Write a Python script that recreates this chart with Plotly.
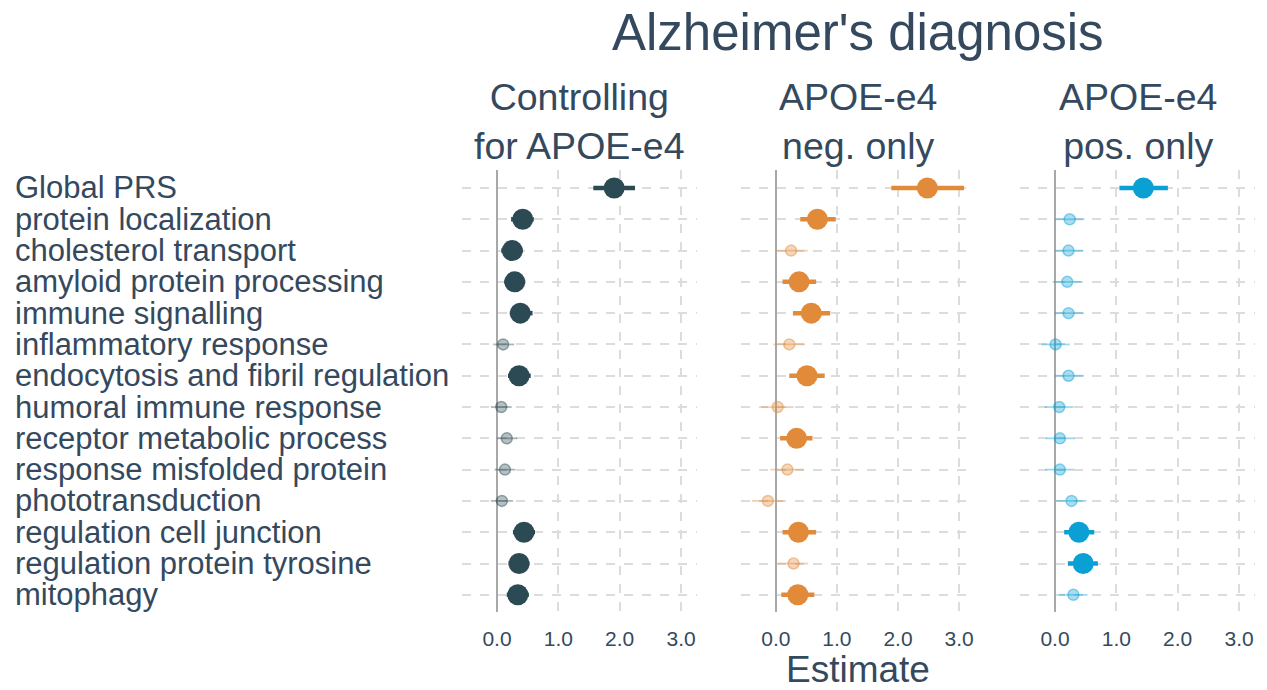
import plotly.graph_objects as go

# Pathway-specific polygenic risk scores and their association with diagnosis
categories = [
    "Global PRS", "protein localization", "cholesterol transport",
    "amyloid protein processing", "immune signalling", "inflammatory response",
    "endocytosis and fibril regulation", "humoral immune response",
    "receptor metabolic process", "response misfolded protein",
    "phototransduction", "regulation cell junction",
    "regulation protein tyrosine", "mitophagy",
]

panel_titles = ["Controlling<br>for APOE-e4", "APOE-e4<br>neg. only", "APOE-e4<br>pos. only"]

# Controlling for APOE-e4
ctrl_est = [1.91, 0.42, 0.25, 0.29, 0.38, 0.10, 0.36, 0.07, 0.16, 0.13, 0.08, 0.44, 0.36, 0.34]
ctrl_lo = [1.57, 0.23, 0.07, 0.12, 0.21, -0.06, 0.18, -0.10, 0.00, -0.04, -0.10, 0.26, 0.19, 0.16]
ctrl_hi = [2.25, 0.60, 0.42, 0.46, 0.58, 0.28, 0.55, 0.24, 0.33, 0.30, 0.26, 0.62, 0.53, 0.52]
ctrl_sig = [1, 1, 1, 1, 1, 0, 1, 0, 0, 0, 0, 1, 1, 1]

# APOE-e4 negative carriers only
neg_est = [2.48, 0.68, 0.25, 0.38, 0.58, 0.22, 0.51, 0.03, 0.34, 0.19, -0.13, 0.37, 0.29, 0.36]
neg_lo = [1.89, 0.40, 0.00, 0.11, 0.28, -0.04, 0.22, -0.24, 0.07, -0.09, -0.39, 0.11, 0.03, 0.09]
neg_hi = [3.08, 0.98, 0.52, 0.66, 0.89, 0.48, 0.80, 0.29, 0.60, 0.46, 0.12, 0.66, 0.53, 0.63]
neg_sig = [1, 1, 0, 1, 1, 0, 1, 0, 1, 0, 0, 1, 0, 1]

# APOE-e4 positive carriers only
pos_est = [1.44, 0.24, 0.22, 0.20, 0.22, 0.01, 0.22, 0.07, 0.08, 0.08, 0.27, 0.39, 0.46, 0.30]
pos_lo = [1.05, 0.00, 0.00, -0.04, -0.01, -0.22, -0.01, -0.17, -0.15, -0.16, 0.02, 0.15, 0.21, 0.06]
pos_hi = [1.84, 0.48, 0.46, 0.43, 0.47, 0.24, 0.47, 0.30, 0.32, 0.31, 0.51, 0.64, 0.70, 0.53]
pos_sig = [1, 0, 0, 0, 0, 0, 0, 0, 0, 0, 0, 1, 1, 0]

x_ticks = [0, 1, 2, 3]
x_tick_labels = ["0.0", "1.0", "2.0", "3.0"]

panels = [
    (ctrl_est, ctrl_lo, ctrl_hi, ctrl_sig, (44, 74, 84)),
    (neg_est, neg_lo, neg_hi, neg_sig, (224, 138, 58)),
    (pos_est, pos_lo, pos_hi, pos_sig, (10, 160, 212)),
]

W, H = 1267, 690
TEXT = "#34495e"
FONT = "Liberation Sans, Arial"
x_domains = [(462, 697), (741, 975), (1020, 1255)]
y_top, y_bot = 170, 612
n = len(categories)
y_range = [n - 1 + 0.55, -0.575]

fig = go.Figure()


def rgba(c, a):
    return f"rgba({c[0]},{c[1]},{c[2]},{a})"


for p, (est, lo, hi, sig, col) in enumerate(panels):
    ax = "" if p == 0 else str(p + 1)
    for is_sig in (0, 1):
        idx = [i for i in range(n) if sig[i] == is_sig]
        xs = [est[i] for i in idx]
        ys = [i for i in idx]
        plus = [hi[i] - est[i] for i in idx]
        minus = [est[i] - lo[i] for i in idx]
        if is_sig:
            marker = dict(size=21, color=rgba(col, 1), line=dict(width=0))
            err = dict(type="data", symmetric=False, array=plus, arrayminus=minus,
                       thickness=4.5, width=0, color=rgba(col, 1))
        else:
            marker = dict(size=11, color=rgba(col, 0.35),
                          line=dict(width=1.5, color=rgba(col, 0.45)))
            err = dict(type="data", symmetric=False, array=plus, arrayminus=minus,
                       thickness=1.8, width=0, color=rgba(col, 0.4))
        fig.add_trace(go.Scatter(
            x=xs, y=ys, mode="markers", marker=marker, error_x=err,
            xaxis="x" + ax, yaxis="y" + ax, showlegend=False,
            hovertext=[categories[i] for i in idx],
        ))

    x0, x1 = x_domains[p]
    fig.update_layout(**{
        "xaxis" + ax: dict(
            domain=[x0 / W, x1 / W], range=[-0.57, 3.26],
            tickvals=x_ticks, ticktext=x_tick_labels,
            tickfont=dict(family="Liberation Sans Narrow, Liberation Sans, Arial", size=21, color=TEXT),
            ticks="outside", ticklen=8, tickcolor="rgba(0,0,0,0)",
            showgrid=True, gridcolor="#dcdcdc", gridwidth=1.5, griddash="dash",
            zeroline=True, zerolinecolor="#a8a8a8", zerolinewidth=2,
            showline=False, anchor="y" + ax, fixedrange=True,
        ),
        "yaxis" + ax: dict(
            domain=[1 - y_bot / H, 1 - y_top / H], range=y_range,
            tickvals=list(range(n)), showticklabels=False,
            showgrid=True, gridcolor="#dcdcdc", gridwidth=1.5, griddash="dash",
            zeroline=False, showline=False, anchor="x" + ax, fixedrange=True,
        ),
    })

annotations = []
# Row labels, left aligned
for i, name in enumerate(categories):
    annotations.append(dict(
        x=13 / W, y=i, xref="paper", yref="y", text=name, showarrow=False,
        xanchor="left", yanchor="middle",
        font=dict(family=FONT, size=31, color=TEXT),
    ))
# Panel titles
for p, t in enumerate(panel_titles):
    x0, x1 = x_domains[p]
    annotations.append(dict(
        x=(x0 + x1) / 2 / W, y=1 - 122 / H, xref="paper", yref="paper", text=t,
        showarrow=False, xanchor="center", yanchor="middle",
        font=dict(family=FONT, size=37.5, color=TEXT),
    ))
# Main title and axis title
annotations.append(dict(
    x=858 / W, y=1 - 33 / H, xref="paper", yref="paper", text="Alzheimer's diagnosis",
    showarrow=False, xanchor="center", yanchor="middle",
    font=dict(family=FONT, size=51, color=TEXT),
))
annotations.append(dict(
    x=858 / W, y=1 - 669 / H, xref="paper", yref="paper", text="Estimate",
    showarrow=False, xanchor="center", yanchor="middle",
    font=dict(family=FONT, size=37, color=TEXT),
))

fig.update_layout(
    width=W, height=H, margin=dict(l=0, r=0, t=0, b=0),
    paper_bgcolor="white", plot_bgcolor="white",
    annotations=annotations,
)

fig.write_html("out.html", config={"displayModeBar": False})
